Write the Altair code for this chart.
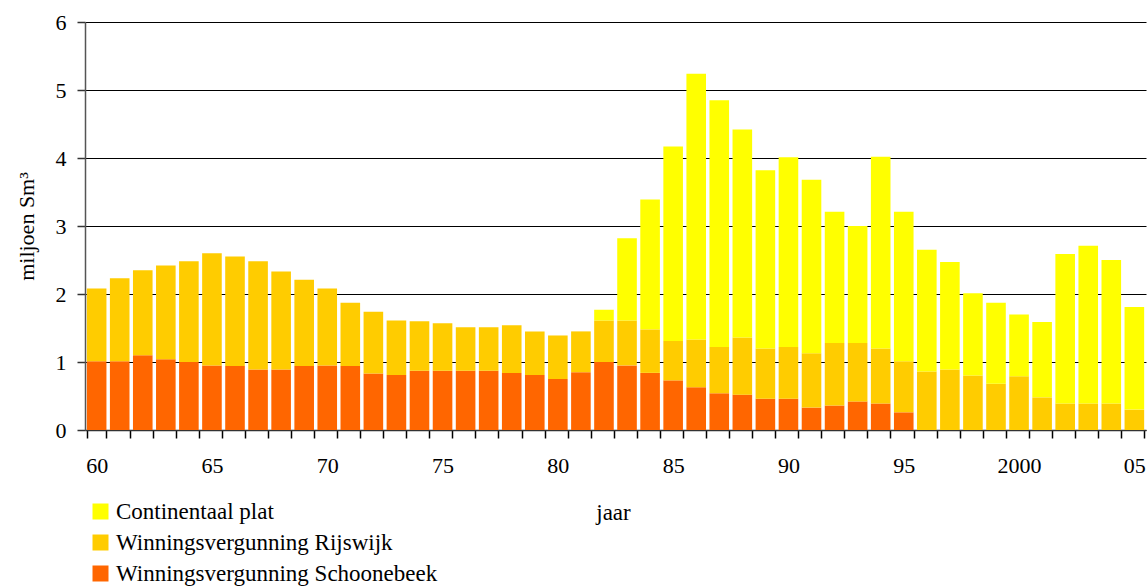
import altair as alt
import pandas as pd

years = list(range(1960, 2006))
schoonebeek = [1.01, 1.01, 1.10, 1.04, 1.00, 0.95, 0.94, 0.89, 0.89, 0.94,
               0.95, 0.94, 0.83, 0.81, 0.87, 0.87, 0.87, 0.87, 0.84, 0.81,
               0.75, 0.85, 1.00, 0.95, 0.84, 0.73, 0.63, 0.54, 0.52, 0.46,
               0.46, 0.33, 0.36, 0.42, 0.39, 0.26, 0, 0, 0, 0,
               0, 0, 0, 0, 0, 0]
rijswijk = [1.07, 1.22, 1.25, 1.38, 1.48, 1.65, 1.61, 1.59, 1.44, 1.27,
            1.13, 0.93, 0.91, 0.80, 0.73, 0.70, 0.64, 0.64, 0.70, 0.64,
            0.64, 0.60, 0.61, 0.66, 0.64, 0.58, 0.70, 0.68, 0.84, 0.74,
            0.76, 0.80, 0.92, 0.86, 0.81, 0.75, 0.86, 0.89, 0.80, 0.68,
            0.79, 0.48, 0.39, 0.39, 0.39, 0.30]
continentaal = [0, 0, 0, 0, 0, 0, 0, 0, 0, 0,
                0, 0, 0, 0, 0, 0, 0, 0, 0, 0,
                0, 0, 0.16, 1.21, 1.91, 2.86, 3.91, 3.63, 3.06, 2.62,
                2.79, 2.55, 1.93, 1.72, 2.82, 2.20, 1.79, 1.58, 1.21, 1.19,
                0.91, 1.11, 2.20, 2.32, 2.11, 1.51]

series_names = ["Continentaal plat", "Winningsvergunning Rijswijk", "Winningsvergunning Schoonebeek"]
series_colors = ["#FFFF00", "#FFCC00", "#FF6600"]

rows = []
for i, y in enumerate(years):
    rows.append({"jaar": str(y), "serie": series_names[2], "waarde": schoonebeek[i], "volgorde": 0})
    rows.append({"jaar": str(y), "serie": series_names[1], "waarde": rijswijk[i], "volgorde": 1})
    rows.append({"jaar": str(y), "serie": series_names[0], "waarde": continentaal[i], "volgorde": 2})
df = pd.DataFrame(rows)

FONT = "Times New Roman, Liberation Serif, serif"

label_expr = ("!isValid(datum.value) ? '' : (datum.value == '2000' ? '2000' : "
              "(toNumber(datum.value) % 5 == 0 ? substring(datum.value, 2, 4) : ''))")

chart = alt.Chart(df).mark_bar().encode(
    x=alt.X("jaar:O",
            scale=alt.Scale(paddingInner=0.15, paddingOuter=0.08),
            axis=alt.Axis(title="jaar", labelExpr=label_expr, labelAngle=0,
                          labelFont=FONT, labelFontSize=22, labelColor="#000",
                          labelPadding=17, tickSize=8, tickBand="extent",
                          tickColor="#000", tickWidth=1.5,
                          domainColor="#333", domainWidth=1.5,
                          titleFont=FONT, titleFontSize=23, titleFontWeight="normal",
                          titleColor="#000", titleX=528, titleY=82,
                          titleAlign="center", titleBaseline="middle",
                          labelOverlap=False)),
    y=alt.Y("waarde:Q", stack="zero",
            scale=alt.Scale(domain=[0, 6], nice=False),
            axis=alt.Axis(title="miljoen Sm³", values=[0, 1, 2, 3, 4, 5, 6],
                          format="d", labelFont=FONT, labelFontSize=22,
                          labelColor="#000", labelPadding=11, tickSize=8,
                          tickColor="#333", tickWidth=1.5,
                          domainColor="#555", domainWidth=1.5,
                          grid=True, gridColor="#000", gridWidth=1,
                          titleFont=FONT, titleFontSize=22, titleFontWeight="normal",
                          titleColor="#000", titlePadding=17)),
    color=alt.Color("serie:N",
                    scale=alt.Scale(domain=series_names, range=series_colors),
                    legend=alt.Legend(title=None, orient="none", legendX=4, legendY=478,
                                      direction="vertical", symbolType="square",
                                      symbolSize=256, symbolStrokeWidth=0,
                                      labelFont=FONT, labelFontSize=23,
                                      labelColor="#000", rowPadding=7,
                                      labelOffset=4, padding=0,
                                      labelLimit=500)),
    order=alt.Order("volgorde:Q", sort="ascending"),
).properties(
    width=1061, height=408,
    autosize=alt.AutoSizeParams(type="none"),
    padding={"left": 85, "top": 22, "right": 2, "bottom": 156},
    background="white",
).configure_view(stroke=None)

chart.save("out.html", embed_options={"renderer": "svg", "actions": False})
